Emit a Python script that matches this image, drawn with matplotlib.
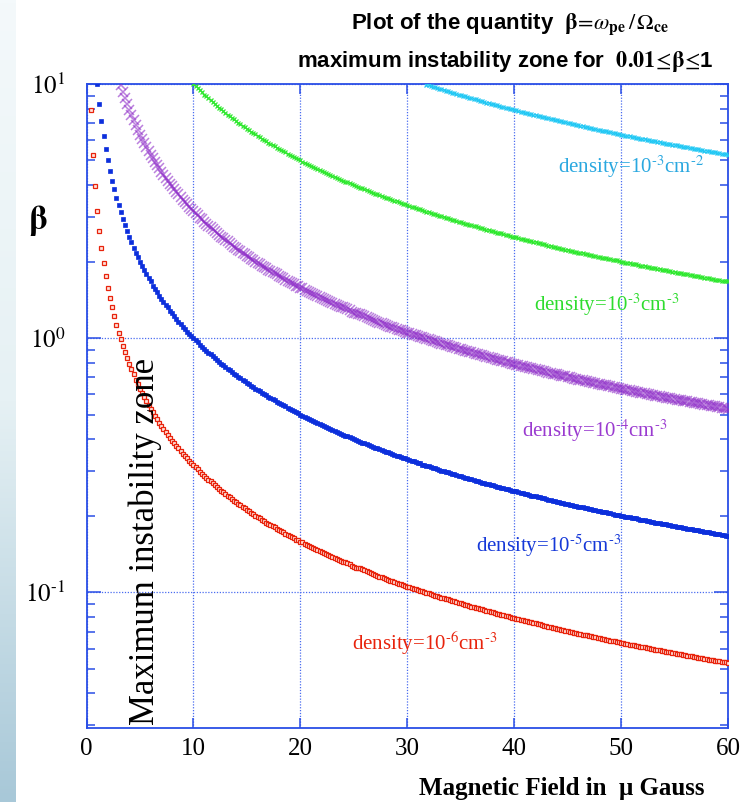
import numpy as np
import matplotlib
matplotlib.use("Agg")
import matplotlib.pyplot as plt
from matplotlib.ticker import LogLocator, NullFormatter
from matplotlib.colors import LinearSegmentedColormap

# Magnetic field sampling grid (micro Gauss)
field_uG = [
    0.2, 0.4, 0.6, 0.8, 1.0, 1.2, 1.4, 1.6, 1.8, 2.0,
    2.2, 2.4, 2.6, 2.8, 3.0, 3.2, 3.4, 3.6, 3.8, 4.0,
    4.2, 4.4, 4.6, 4.8, 5.0, 5.2, 5.4, 5.6, 5.8, 6.0,
    6.2, 6.4, 6.6, 6.8, 7.0, 7.2, 7.4, 7.6, 7.8, 8.0,
    8.2, 8.4, 8.6, 8.8, 9.0, 9.2, 9.4, 9.6, 9.8, 10.0,
    10.2, 10.4, 10.6, 10.8, 11.0, 11.2, 11.4, 11.6, 11.8, 12.0,
    12.2, 12.4, 12.6, 12.8, 13.0, 13.2, 13.4, 13.6, 13.8, 14.0,
    14.2, 14.4, 14.6, 14.8, 15.0, 15.2, 15.4, 15.6, 15.8, 16.0,
    16.2, 16.4, 16.6, 16.8, 17.0, 17.2, 17.4, 17.6, 17.8, 18.0,
    18.2, 18.4, 18.6, 18.8, 19.0, 19.2, 19.4, 19.6, 19.8, 20.0,
    20.2, 20.4, 20.6, 20.8, 21.0, 21.2, 21.4, 21.6, 21.8, 22.0,
    22.2, 22.4, 22.6, 22.8, 23.0, 23.2, 23.4, 23.6, 23.8, 24.0,
    24.2, 24.4, 24.6, 24.8, 25.0, 25.2, 25.4, 25.6, 25.8, 26.0,
    26.2, 26.4, 26.6, 26.8, 27.0, 27.2, 27.4, 27.6, 27.8, 28.0,
    28.2, 28.4, 28.6, 28.8, 29.0, 29.2, 29.4, 29.6, 29.8, 30.0,
    30.2, 30.4, 30.6, 30.8, 31.0, 31.2, 31.4, 31.6, 31.8, 32.0,
    32.2, 32.4, 32.6, 32.8, 33.0, 33.2, 33.4, 33.6, 33.8, 34.0,
    34.2, 34.4, 34.6, 34.8, 35.0, 35.2, 35.4, 35.6, 35.8, 36.0,
    36.2, 36.4, 36.6, 36.8, 37.0, 37.2, 37.4, 37.6, 37.8, 38.0,
    38.2, 38.4, 38.6, 38.8, 39.0, 39.2, 39.4, 39.6, 39.8, 40.0,
    40.2, 40.4, 40.6, 40.8, 41.0, 41.2, 41.4, 41.6, 41.8, 42.0,
    42.2, 42.4, 42.6, 42.8, 43.0, 43.2, 43.4, 43.6, 43.8, 44.0,
    44.2, 44.4, 44.6, 44.8, 45.0, 45.2, 45.4, 45.6, 45.8, 46.0,
    46.2, 46.4, 46.6, 46.8, 47.0, 47.2, 47.4, 47.6, 47.8, 48.0,
    48.2, 48.4, 48.6, 48.8, 49.0, 49.2, 49.4, 49.6, 49.8, 50.0,
    50.2, 50.4, 50.6, 50.8, 51.0, 51.2, 51.4, 51.6, 51.8, 52.0,
    52.2, 52.4, 52.6, 52.8, 53.0, 53.2, 53.4, 53.6, 53.8, 54.0,
    54.2, 54.4, 54.6, 54.8, 55.0, 55.2, 55.4, 55.6, 55.8, 56.0,
    56.2, 56.4, 56.6, 56.8, 57.0, 57.2, 57.4, 57.6, 57.8, 58.0,
    58.2, 58.4, 58.6, 58.8, 59.0, 59.2, 59.4, 59.6, 59.8, 60.0,
]

# beta values for density 1e-6 cm^-3 (aligned with the last entries of field_uG)
beta_1e6 = [
    7.91, 5.27, 3.95, 3.16, 2.64, 2.26, 1.98, 1.76, 1.58,
    1.44, 1.32, 1.22, 1.13, 1.05, 0.988, 0.930, 0.878, 0.832, 0.791,
    0.753, 0.719, 0.687, 0.659, 0.632, 0.608, 0.586, 0.565, 0.545, 0.527,
    0.510, 0.494, 0.479, 0.465, 0.452, 0.439, 0.427, 0.416, 0.405, 0.395,
    0.386, 0.376, 0.368, 0.359, 0.351, 0.344, 0.336, 0.329, 0.323, 0.316,
    0.310, 0.304, 0.298, 0.293, 0.287, 0.282, 0.277, 0.273, 0.268, 0.264,
    0.259, 0.255, 0.251, 0.247, 0.243, 0.240, 0.236, 0.233, 0.229, 0.226,
    0.223, 0.220, 0.217, 0.214, 0.211, 0.208, 0.205, 0.203, 0.200, 0.198,
    0.195, 0.193, 0.190, 0.188, 0.186, 0.184, 0.182, 0.180, 0.178, 0.176,
    0.174, 0.172, 0.170, 0.168, 0.166, 0.165, 0.163, 0.161, 0.160, 0.158,
    0.157, 0.155, 0.153, 0.152, 0.151, 0.149, 0.148, 0.146, 0.145, 0.144,
    0.142, 0.141, 0.140, 0.139, 0.137, 0.136, 0.135, 0.134, 0.133, 0.132,
    0.131, 0.130, 0.129, 0.127, 0.126, 0.125, 0.124, 0.124, 0.123, 0.122,
    0.121, 0.120, 0.119, 0.118, 0.117, 0.116, 0.115, 0.115, 0.114, 0.113,
    0.112, 0.111, 0.111, 0.110, 0.109, 0.108, 0.108, 0.107, 0.106, 0.105,
    0.105, 0.104, 0.103, 0.103, 0.102, 0.101, 0.101, 0.100, 0.0994, 0.0988,
    0.0982, 0.0976, 0.0970, 0.0964, 0.0958, 0.0952, 0.0947, 0.0941, 0.0936, 0.0930,
    0.0925, 0.0919, 0.0914, 0.0909, 0.0903, 0.0898, 0.0893, 0.0888, 0.0883, 0.0878,
    0.0873, 0.0869, 0.0864, 0.0859, 0.0855, 0.0850, 0.0845, 0.0841, 0.0837, 0.0832,
    0.0828, 0.0823, 0.0819, 0.0815, 0.0811, 0.0807, 0.0803, 0.0798, 0.0794, 0.0791,
    0.0787, 0.0783, 0.0779, 0.0775, 0.0771, 0.0767, 0.0764, 0.0760, 0.0756, 0.0753,
    0.0749, 0.0746, 0.0742, 0.0739, 0.0735, 0.0732, 0.0729, 0.0725, 0.0722, 0.0719,
    0.0715, 0.0712, 0.0709, 0.0706, 0.0703, 0.0700, 0.0696, 0.0693, 0.0690, 0.0687,
    0.0684, 0.0681, 0.0679, 0.0676, 0.0673, 0.0670, 0.0667, 0.0664, 0.0662, 0.0659,
    0.0656, 0.0653, 0.0651, 0.0648, 0.0645, 0.0643, 0.0640, 0.0638, 0.0635, 0.0632,
    0.0630, 0.0627, 0.0625, 0.0622, 0.0620, 0.0618, 0.0615, 0.0613, 0.0610, 0.0608,
    0.0606, 0.0603, 0.0601, 0.0599, 0.0597, 0.0594, 0.0592, 0.0590, 0.0588, 0.0586,
    0.0583, 0.0581, 0.0579, 0.0577, 0.0575, 0.0573, 0.0571, 0.0569, 0.0567, 0.0565,
    0.0563, 0.0561, 0.0559, 0.0557, 0.0555, 0.0553, 0.0551, 0.0549, 0.0547, 0.0545,
    0.0543, 0.0541, 0.0540, 0.0538, 0.0536, 0.0534, 0.0532, 0.0531, 0.0529, 0.0527,
]

# beta values for density 1e-5 cm^-3
beta_1e5 = [
    10.0, 8.33, 7.14, 6.25, 5.56, 5.00,
    4.55, 4.17, 3.85, 3.57, 3.33, 3.13, 2.94, 2.78, 2.63, 2.50,
    2.38, 2.27, 2.17, 2.08, 2.00, 1.92, 1.85, 1.79, 1.72, 1.67,
    1.61, 1.56, 1.52, 1.47, 1.43, 1.39, 1.35, 1.32, 1.28, 1.25,
    1.22, 1.19, 1.16, 1.14, 1.11, 1.09, 1.06, 1.04, 1.02, 1.00,
    0.980, 0.962, 0.943, 0.926, 0.909, 0.893, 0.877, 0.862, 0.847, 0.833,
    0.820, 0.806, 0.794, 0.781, 0.769, 0.758, 0.746, 0.735, 0.725, 0.714,
    0.704, 0.694, 0.685, 0.676, 0.667, 0.658, 0.649, 0.641, 0.633, 0.625,
    0.617, 0.610, 0.602, 0.595, 0.588, 0.581, 0.575, 0.568, 0.562, 0.556,
    0.549, 0.543, 0.538, 0.532, 0.526, 0.521, 0.515, 0.510, 0.505, 0.500,
    0.495, 0.490, 0.485, 0.481, 0.476, 0.472, 0.467, 0.463, 0.459, 0.455,
    0.450, 0.446, 0.442, 0.439, 0.435, 0.431, 0.427, 0.424, 0.420, 0.417,
    0.413, 0.410, 0.407, 0.403, 0.400, 0.397, 0.394, 0.391, 0.388, 0.385,
    0.382, 0.379, 0.376, 0.373, 0.370, 0.368, 0.365, 0.362, 0.360, 0.357,
    0.355, 0.352, 0.350, 0.347, 0.345, 0.342, 0.340, 0.338, 0.336, 0.333,
    0.331, 0.329, 0.327, 0.325, 0.323, 0.321, 0.318, 0.316, 0.314, 0.313,
    0.311, 0.309, 0.307, 0.305, 0.303, 0.301, 0.299, 0.298, 0.296, 0.294,
    0.292, 0.291, 0.289, 0.287, 0.286, 0.284, 0.282, 0.281, 0.279, 0.278,
    0.276, 0.275, 0.273, 0.272, 0.270, 0.269, 0.267, 0.266, 0.265, 0.263,
    0.262, 0.260, 0.259, 0.258, 0.256, 0.255, 0.254, 0.253, 0.251, 0.250,
    0.249, 0.248, 0.246, 0.245, 0.244, 0.243, 0.242, 0.240, 0.239, 0.238,
    0.237, 0.236, 0.235, 0.234, 0.233, 0.231, 0.230, 0.229, 0.228, 0.227,
    0.226, 0.225, 0.224, 0.223, 0.222, 0.221, 0.220, 0.219, 0.218, 0.217,
    0.216, 0.216, 0.215, 0.214, 0.213, 0.212, 0.211, 0.210, 0.209, 0.208,
    0.207, 0.207, 0.206, 0.205, 0.204, 0.203, 0.202, 0.202, 0.201, 0.200,
    0.199, 0.198, 0.198, 0.197, 0.196, 0.195, 0.195, 0.194, 0.193, 0.192,
    0.192, 0.191, 0.190, 0.189, 0.189, 0.188, 0.187, 0.187, 0.186, 0.185,
    0.185, 0.184, 0.183, 0.182, 0.182, 0.181, 0.181, 0.180, 0.179, 0.179,
    0.178, 0.177, 0.177, 0.176, 0.175, 0.175, 0.174, 0.174, 0.173, 0.172,
    0.172, 0.171, 0.171, 0.170, 0.169, 0.169, 0.168, 0.168, 0.167, 0.167,
]

# beta values for density 1e-4 cm^-3
beta_1e4 = [
    9.88, 9.30, 8.78, 8.32, 7.91,
    7.53, 7.19, 6.87, 6.59, 6.32, 6.08, 5.86, 5.65, 5.45, 5.27,
    5.10, 4.94, 4.79, 4.65, 4.52, 4.39, 4.27, 4.16, 4.05, 3.95,
    3.86, 3.76, 3.68, 3.59, 3.51, 3.44, 3.36, 3.29, 3.23, 3.16,
    3.10, 3.04, 2.98, 2.93, 2.87, 2.82, 2.77, 2.73, 2.68, 2.64,
    2.59, 2.55, 2.51, 2.47, 2.43, 2.40, 2.36, 2.33, 2.29, 2.26,
    2.23, 2.20, 2.17, 2.14, 2.11, 2.08, 2.05, 2.03, 2.00, 1.98,
    1.95, 1.93, 1.90, 1.88, 1.86, 1.84, 1.82, 1.80, 1.78, 1.76,
    1.74, 1.72, 1.70, 1.68, 1.66, 1.65, 1.63, 1.61, 1.60, 1.58,
    1.57, 1.55, 1.53, 1.52, 1.51, 1.49, 1.48, 1.46, 1.45, 1.44,
    1.42, 1.41, 1.40, 1.39, 1.37, 1.36, 1.35, 1.34, 1.33, 1.32,
    1.31, 1.30, 1.29, 1.27, 1.26, 1.25, 1.24, 1.24, 1.23, 1.22,
    1.21, 1.20, 1.19, 1.18, 1.17, 1.16, 1.15, 1.15, 1.14, 1.13,
    1.12, 1.11, 1.11, 1.10, 1.09, 1.08, 1.08, 1.07, 1.06, 1.05,
    1.05, 1.04, 1.03, 1.03, 1.02, 1.01, 1.01, 1.00, 0.994, 0.988,
    0.982, 0.976, 0.970, 0.964, 0.958, 0.952, 0.947, 0.941, 0.936, 0.930,
    0.925, 0.919, 0.914, 0.909, 0.903, 0.898, 0.893, 0.888, 0.883, 0.878,
    0.873, 0.869, 0.864, 0.859, 0.855, 0.850, 0.845, 0.841, 0.837, 0.832,
    0.828, 0.823, 0.819, 0.815, 0.811, 0.807, 0.803, 0.798, 0.794, 0.791,
    0.787, 0.783, 0.779, 0.775, 0.771, 0.767, 0.764, 0.760, 0.756, 0.753,
    0.749, 0.746, 0.742, 0.739, 0.735, 0.732, 0.729, 0.725, 0.722, 0.719,
    0.715, 0.712, 0.709, 0.706, 0.703, 0.700, 0.696, 0.693, 0.690, 0.687,
    0.684, 0.681, 0.679, 0.676, 0.673, 0.670, 0.667, 0.664, 0.662, 0.659,
    0.656, 0.653, 0.651, 0.648, 0.645, 0.643, 0.640, 0.638, 0.635, 0.632,
    0.630, 0.627, 0.625, 0.622, 0.620, 0.618, 0.615, 0.613, 0.610, 0.608,
    0.606, 0.603, 0.601, 0.599, 0.597, 0.594, 0.592, 0.590, 0.588, 0.586,
    0.583, 0.581, 0.579, 0.577, 0.575, 0.573, 0.571, 0.569, 0.567, 0.565,
    0.563, 0.561, 0.559, 0.557, 0.555, 0.553, 0.551, 0.549, 0.547, 0.545,
    0.543, 0.541, 0.540, 0.538, 0.536, 0.534, 0.532, 0.531, 0.529, 0.527,
]

# beta values for density 1e-3 cm^-3
beta_1e3 = [
    10.0,
    9.80, 9.62, 9.43, 9.26, 9.09, 8.93, 8.77, 8.62, 8.47, 8.33,
    8.20, 8.06, 7.94, 7.81, 7.69, 7.58, 7.46, 7.35, 7.25, 7.14,
    7.04, 6.94, 6.85, 6.76, 6.67, 6.58, 6.49, 6.41, 6.33, 6.25,
    6.17, 6.10, 6.02, 5.95, 5.88, 5.81, 5.75, 5.68, 5.62, 5.56,
    5.49, 5.43, 5.38, 5.32, 5.26, 5.21, 5.15, 5.10, 5.05, 5.00,
    4.95, 4.90, 4.85, 4.81, 4.76, 4.72, 4.67, 4.63, 4.59, 4.55,
    4.50, 4.46, 4.42, 4.39, 4.35, 4.31, 4.27, 4.24, 4.20, 4.17,
    4.13, 4.10, 4.07, 4.03, 4.00, 3.97, 3.94, 3.91, 3.88, 3.85,
    3.82, 3.79, 3.76, 3.73, 3.70, 3.68, 3.65, 3.62, 3.60, 3.57,
    3.55, 3.52, 3.50, 3.47, 3.45, 3.42, 3.40, 3.38, 3.36, 3.33,
    3.31, 3.29, 3.27, 3.25, 3.23, 3.21, 3.18, 3.16, 3.14, 3.13,
    3.11, 3.09, 3.07, 3.05, 3.03, 3.01, 2.99, 2.98, 2.96, 2.94,
    2.92, 2.91, 2.89, 2.87, 2.86, 2.84, 2.82, 2.81, 2.79, 2.78,
    2.76, 2.75, 2.73, 2.72, 2.70, 2.69, 2.67, 2.66, 2.65, 2.63,
    2.62, 2.60, 2.59, 2.58, 2.56, 2.55, 2.54, 2.53, 2.51, 2.50,
    2.49, 2.48, 2.46, 2.45, 2.44, 2.43, 2.42, 2.40, 2.39, 2.38,
    2.37, 2.36, 2.35, 2.34, 2.33, 2.31, 2.30, 2.29, 2.28, 2.27,
    2.26, 2.25, 2.24, 2.23, 2.22, 2.21, 2.20, 2.19, 2.18, 2.17,
    2.16, 2.16, 2.15, 2.14, 2.13, 2.12, 2.11, 2.10, 2.09, 2.08,
    2.07, 2.07, 2.06, 2.05, 2.04, 2.03, 2.02, 2.02, 2.01, 2.00,
    1.99, 1.98, 1.98, 1.97, 1.96, 1.95, 1.95, 1.94, 1.93, 1.92,
    1.92, 1.91, 1.90, 1.89, 1.89, 1.88, 1.87, 1.87, 1.86, 1.85,
    1.85, 1.84, 1.83, 1.82, 1.82, 1.81, 1.81, 1.80, 1.79, 1.79,
    1.78, 1.77, 1.77, 1.76, 1.75, 1.75, 1.74, 1.74, 1.73, 1.72,
    1.72, 1.71, 1.71, 1.70, 1.69, 1.69, 1.68, 1.68, 1.67, 1.67,
]

# beta values for column density 1e-3 cm^-2
beta_1e3_col = [
    9.94, 9.88,
    9.82, 9.76, 9.70, 9.64, 9.58, 9.52, 9.47, 9.41, 9.36, 9.30,
    9.25, 9.19, 9.14, 9.09, 9.03, 8.98, 8.93, 8.88, 8.83, 8.78,
    8.73, 8.69, 8.64, 8.59, 8.55, 8.50, 8.45, 8.41, 8.37, 8.32,
    8.28, 8.23, 8.19, 8.15, 8.11, 8.07, 8.03, 7.98, 7.94, 7.91,
    7.87, 7.83, 7.79, 7.75, 7.71, 7.67, 7.64, 7.60, 7.56, 7.53,
    7.49, 7.46, 7.42, 7.39, 7.35, 7.32, 7.29, 7.25, 7.22, 7.19,
    7.15, 7.12, 7.09, 7.06, 7.03, 7.00, 6.96, 6.93, 6.90, 6.87,
    6.84, 6.81, 6.79, 6.76, 6.73, 6.70, 6.67, 6.64, 6.62, 6.59,
    6.56, 6.53, 6.51, 6.48, 6.45, 6.43, 6.40, 6.38, 6.35, 6.32,
    6.30, 6.27, 6.25, 6.22, 6.20, 6.18, 6.15, 6.13, 6.10, 6.08,
    6.06, 6.03, 6.01, 5.99, 5.97, 5.94, 5.92, 5.90, 5.88, 5.86,
    5.83, 5.81, 5.79, 5.77, 5.75, 5.73, 5.71, 5.69, 5.67, 5.65,
    5.63, 5.61, 5.59, 5.57, 5.55, 5.53, 5.51, 5.49, 5.47, 5.45,
    5.43, 5.41, 5.40, 5.38, 5.36, 5.34, 5.32, 5.31, 5.29, 5.27,
]

x_ticks = [0, 10, 20, 30, 40, 50, 60]
y_ticks = [0.1, 1, 10]
y_tick_labels = [r"$10^{\text{-}1}$", r"$10^{0}$", r"$10^{1}$"]

plt.rcParams['mathtext.fontset'] = 'stix'

W, H = 740, 802
fig = plt.figure(figsize=(W / 100, H / 100), dpi=100)
fig.patch.set_facecolor('white')

# light blue gradient strip at left edge (slide background)
gax = fig.add_axes([0, 0, 16 / W, 1])
grad = np.linspace(0, 1, 256)[:, None]
gcmap = LinearSegmentedColormap.from_list('g', ['#f4f9fb', '#e6f1f4', '#a8c8d8'])
gax.imshow(grad, aspect='auto', cmap=gcmap, extent=[0, 1, 0, 1], origin='upper')
gax.axis('off')

L, R, T, B = 86.5, 728, 84, 728
ax = fig.add_axes([L / W, 1 - B / H, (R - L) / W, (B - T) / H])

frame_c = '#2a4ee6'
grid_c = '#4a6cf0'


def xs(vals):
    return field_uG[len(field_uG) - len(vals):]


ax.plot(xs(beta_1e6), beta_1e6, ls='none', marker='s', ms=3.4, mfc='#ffe4dc',
        mec='#e8230c', mew=0.9, zorder=3)
ax.plot(xs(beta_1e5), beta_1e5, ls='none', marker='s', ms=3.4, color='#0c2fdc',
        mew=0.5, zorder=3)
ax.plot(xs(beta_1e4), beta_1e4, ls='none', marker='x', ms=7, mew=1.1,
        color='#8e2cc8', alpha=0.6, zorder=3)
ax.plot(xs(beta_1e3), beta_1e3, ls='none', marker='x', ms=3, mew=0.9,
        color='#2ee82e', zorder=3)
ax.plot(xs(beta_1e3_col), beta_1e3_col, ls='none', marker='x', ms=2.6, mew=0.9,
        color='#22c8f4', zorder=3)

ax.set_yscale('log')
ax.set_xlim(0, 60)
ax.set_ylim(0.0292, 10)

ax.set_xticks(x_ticks)
ax.set_xticklabels([str(v) for v in x_ticks], family='Liberation Serif', fontsize=18)
ax.set_yticks(y_ticks)
ax.set_yticklabels(y_tick_labels, fontsize=18)
ax.yaxis.set_minor_locator(LogLocator(base=10, subs=[2, 3, 4, 5, 6, 7, 8, 9]))
ax.yaxis.set_minor_formatter(NullFormatter())

ax.tick_params(axis='x', which='major', direction='in', length=7, width=1.1,
               color=frame_c, top=True, pad=7)
ax.tick_params(axis='y', which='major', direction='in', length=10, width=1.1,
               color=frame_c, right=True, pad=15)
ax.tick_params(axis='y', which='minor', direction='in', length=6, width=1.1,
               color=frame_c, right=True)

ax.grid(True, which='major', ls=(0, (1, 1.3)), color=grid_c, lw=0.9)
for sp in ax.spines.values():
    sp.set_color(frame_c)
    sp.set_linewidth(1.3)

# titles
fig.text(510 / W, 1 - 24 / H,
         r"Plot of the quantity  $\mathbf{\beta}\!=\!\omega_{\mathbf{pe}}\,/\,\Omega_{\mathbf{ce}}$",
         ha='center', va='center', fontsize=16, fontweight='bold',
         family='Liberation Sans')
fig.text(505 / W, 1 - 62 / H,
         r"maximum instability zone for  $\mathbf{0.01}\!\leq\!\mathbf{\beta}\!\leq\!$1",
         ha='center', va='center', fontsize=16, fontweight='bold',
         family='Liberation Sans')

# axis labels
fig.text(38 / W, 1 - 220 / H, r"$\mathbf{\beta}$", ha='center', va='center',
         fontsize=24)
fig.text(562 / W, 1 - 789 / H, "Magnetic Field in  μ Gauss", ha='center',
         va='center', fontsize=18, fontweight='bold', family='Liberation Serif')

# rotated annotation
ax.text(5.45, 0.0299, "Maximum instability zone", rotation=90, ha='center',
        va='bottom', fontsize=25, family='Liberation Serif', color='black')

# density labels
lab_kw = dict(ha='center', va='center', fontsize=15, family='Liberation Serif')
fig.text(631 / W, 1 - 167 / H, r"density=10$^{\text{-3}}$cm$^{\text{-2}}$", color='#2aa8e0', **lab_kw)
fig.text(607 / W, 1 - 305 / H, r"density=10$^{\text{-3}}$cm$^{\text{-3}}$", color='#2edc2e', **lab_kw)
fig.text(595 / W, 1 - 431 / H, r"density=10$^{\text{-4}}$cm$^{\text{-3}}$", color='#9a3bd0', **lab_kw)
fig.text(549 / W, 1 - 546 / H, r"density=10$^{\text{-5}}$cm$^{\text{-3}}$", color='#1538d8', **lab_kw)
fig.text(425 / W, 1 - 643 / H, r"density=10$^{\text{-6}}$cm$^{\text{-3}}$", color='#e8230c', **lab_kw)

fig.savefig('out.png', dpi=100)
